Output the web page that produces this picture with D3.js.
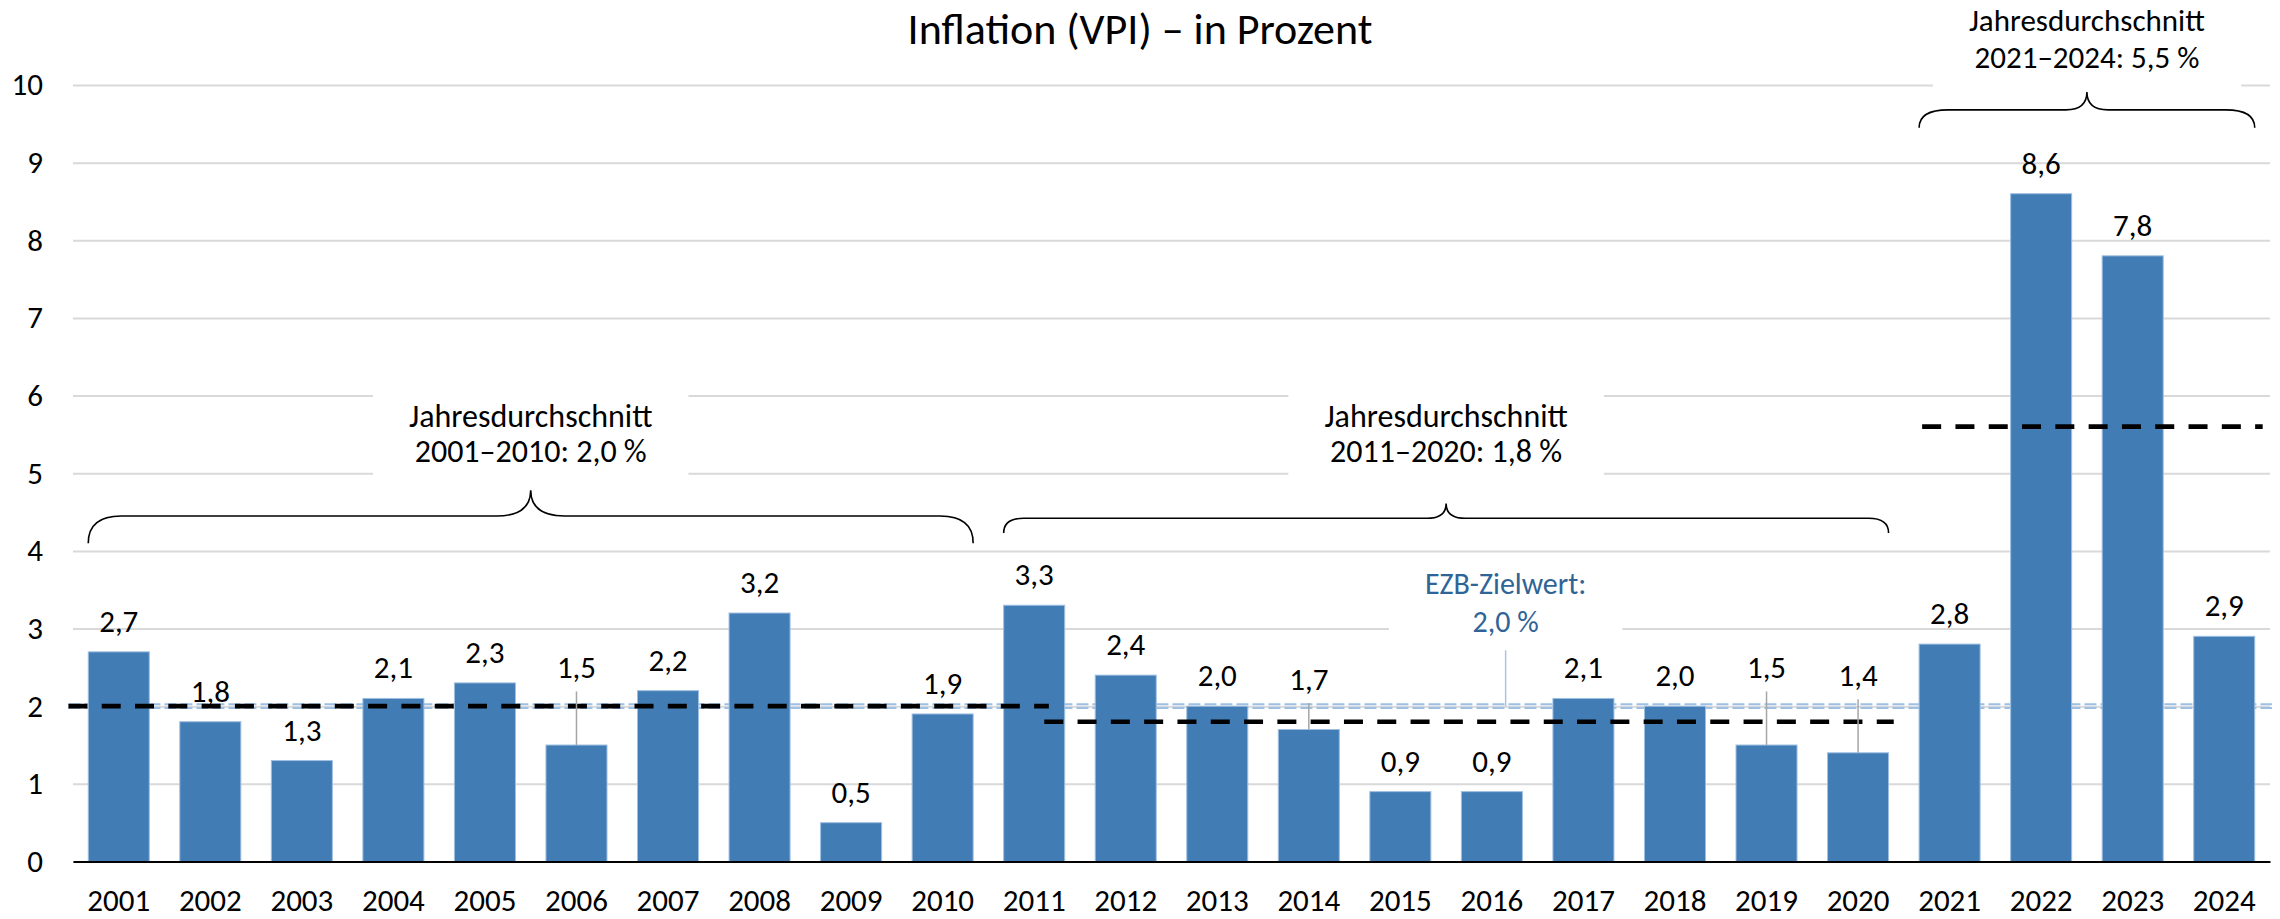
<!DOCTYPE html>
<html>
<head>
<meta charset="utf-8">
<script src="https://cdn.jsdelivr.net/npm/d3@7"></script>
<style>
  body { margin: 0; background: #fff; }
  text { font-family: Carlito, Calibri, Lato, sans-serif; }
</style>
</head>
<body>
<div id="barChart"></div>
<script>
// Inflation (VPI) bar chart

// data
const years = ["2001","2002","2003","2004","2005","2006","2007","2008","2009","2010",
  "2011","2012","2013","2014","2015","2016","2017","2018","2019","2020",
  "2021","2022","2023","2024"];
const inflation = [2.7, 1.8, 1.3, 2.1, 2.3, 1.5, 2.2, 3.2, 0.5, 1.9,
  3.3, 2.4, 2.0, 1.7, 0.9, 0.9, 2.1, 2.0, 1.5, 1.4,
  2.8, 8.6, 7.8, 2.9];
const yTicks = [0, 1, 2, 3, 4, 5, 6, 7, 8, 9, 10];

// period averages
const avgFrom = ["2001", "2011", "2021"];
const avgTo = ["2010", "2020", "2024"];
const avgValues = [2.0, 1.8, 5.5];
const avgLines = [2.0, 1.8, 5.6];

const ezbTarget = 2.0;

// labels that are lifted above the target line and get a leader
const labelAnchor = {"2006": 2.1, "2014": 1.95, "2019": 2.1, "2020": 2.0};

// layout of the brackets (y in chart units)
const braceLayout = [
  {end: 4.10, mid: 4.45, tip: 4.78, rEnd: 33, rTip: 34, text: 5.15, lead: 35, size: 32},
  {end: 4.23, mid: 4.42, tip: 4.61, rEnd: 20, rTip: 19, text: 5.15, lead: 35, size: 32},
  {end: 9.45, mid: 9.68, tip: 9.91, rEnd: 29, rTip: 21, text: 10.22, lead: 37, size: 31}
];
// extent of the dashed average lines, in band steps from the left edge
const avgSpan = [[-0.05, 10.66], [10.61, 19.89], [20.2, 23.92]];

const fmt = d3.formatLocale({decimal: ",", thousands: ".", grouping: [3], currency: ["", " €"]}).format(".1f");

// set the dimensions and margins of the graph
const margin = {top: 85, right: 10, bottom: 57.5, left: 73},
    width = 2280 - margin.left - margin.right,
    height = 919 - margin.top - margin.bottom;

const root = d3.select("#barChart")
  .append("svg")
    .attr("width", width + margin.left + margin.right)
    .attr("height", height + margin.top + margin.bottom);

const svg = root.append("g")
    .attr("transform", "translate(" + margin.left + "," + margin.top + ")");

const x = d3.scaleBand()
  .domain(years)
  .range([0, width])
  .paddingInner(1 / 3)
  .paddingOuter(1 / 6);

const y = d3.scaleLinear()
  .domain([0, 10])
  .range([height, 0]);

const step = x.step();
const fontSize = 31;
const fontFamily = "Carlito, Calibri, Lato, sans-serif";

// Y axis with gridlines
const yAxis = svg.append("g")
  .call(d3.axisLeft(y).tickValues(yTicks).tickSize(-width).tickPadding(30).tickFormat(d3.format("d")));
yAxis.select(".domain").remove();
yAxis.selectAll("line")
  .attr("stroke", "#d9d9d9")
  .attr("stroke-width", 2);
yAxis.selectAll("text")
  .attr("font-family", fontFamily)
  .attr("font-size", fontSize)
  .attr("fill", "#000");

// white boxes behind the texts (filled in later)
const boxLayer = svg.append("g");

// EZB target line (double dashed, behind bars)
[-1.9, 1.9].forEach(function(off) {
  svg.append("line")
    .attr("x1", -0.05 * step)
    .attr("x2", width + 2)
    .attr("y1", y(ezbTarget) + off)
    .attr("y2", y(ezbTarget) + off)
    .attr("stroke", "#9dc0e4")
    .attr("stroke-width", 2)
    .attr("stroke-dasharray", "12,4");
});

// bars
svg.selectAll("rect.bar")
  .data(years)
  .enter()
  .append("rect")
    .attr("class", "bar")
    .attr("x", function(d) { return x(d); })
    .attr("y", function(d, i) { return y(inflation[i]); })
    .attr("width", x.bandwidth())
    .attr("height", function(d, i) { return height - y(inflation[i]); })
    .attr("fill", "#427cb5")
    .attr("stroke", "#9fbfe2")
    .attr("stroke-width", 1);

// X axis
const xAxis = svg.append("g")
  .attr("transform", "translate(0," + height + ")")
  .call(d3.axisBottom(x).tickSize(0).tickPadding(27));
xAxis.select(".domain")
  .attr("stroke", "#000")
  .attr("stroke-width", 2);
xAxis.selectAll("text")
  .attr("font-family", fontFamily)
  .attr("font-size", fontSize)
  .attr("fill", "#000");

// average lines
svg.selectAll("line.avg")
  .data(avgLines)
  .enter()
  .append("line")
    .attr("class", "avg")
    .attr("x1", function(d, i) { return avgSpan[i][0] * step; })
    .attr("x2", function(d, i) { return avgSpan[i][1] * step; })
    .attr("y1", function(d) { return y(d); })
    .attr("y2", function(d) { return y(d); })
    .attr("stroke", "#000")
    .attr("stroke-width", 4.7)
    .attr("stroke-dasharray", "19,14.3");

// leader lines for lifted labels
svg.selectAll("line.leader")
  .data(years.filter(function(d) { return labelAnchor[d] !== undefined; }))
  .enter()
  .append("line")
    .attr("class", "leader")
    .attr("x1", function(d) { return x(d) + x.bandwidth() / 2; })
    .attr("x2", function(d) { return x(d) + x.bandwidth() / 2; })
    .attr("y1", function(d) { return y(labelAnchor[d]) - 7; })
    .attr("y2", function(d) { return y(inflation[years.indexOf(d)]); })
    .attr("stroke", "#a6a6a6")
    .attr("stroke-width", 1.5);

// value labels
svg.selectAll("text.value")
  .data(years)
  .enter()
  .append("text")
    .attr("class", "value")
    .attr("x", function(d) { return x(d) + x.bandwidth() / 2; })
    .attr("y", function(d, i) {
      const v = labelAnchor[d] !== undefined ? labelAnchor[d] : inflation[i];
      return y(v) - 20;
    })
    .attr("text-anchor", "middle")
    .attr("font-size", fontSize)
    .text(function(d, i) { return fmt(inflation[i]); });

// braces
function bracePath(x0, x1, yEnd, yMid, yTip, rEnd, rTip) {
  const xt = (x0 + x1) / 2;
  return "M" + x0 + "," + yEnd +
    " Q" + x0 + "," + yMid + " " + (x0 + rEnd) + "," + yMid +
    " L" + (xt - rTip) + "," + yMid +
    " Q" + xt + "," + yMid + " " + xt + "," + yTip +
    " Q" + xt + "," + yMid + " " + (xt + rTip) + "," + yMid +
    " L" + (x1 - rEnd) + "," + yMid +
    " Q" + x1 + "," + yMid + " " + x1 + "," + yEnd;
}

// two-line note as one text element, with a white box behind it
function note(cx, baseline2, lead, size, color, lines) {
  const t = svg.append("text")
    .attr("x", cx)
    .attr("y", baseline2 - lead)
    .attr("text-anchor", "middle")
    .attr("font-size", size)
    .attr("fill", color);
  t.append("tspan").attr("x", cx).text(lines[0]);
  t.append("tspan").attr("x", cx).attr("dy", lead).text(lines[1]);
  const b = t.node().getBBox();
  boxLayer.append("rect")
    .attr("x", b.x - 36)
    .attr("y", b.y - 4)
    .attr("width", b.width + 72)
    .attr("height", b.height + 18)
    .attr("fill", "#fff");
}

avgValues.forEach(function(v, i) {
  const L = braceLayout[i];
  const x0 = x(avgFrom[i]);
  const x1 = x(avgTo[i]) + x.bandwidth();

  svg.append("path")
    .attr("d", bracePath(x0, x1, y(L.end), y(L.mid), y(L.tip), L.rEnd, L.rTip))
    .attr("fill", "none")
    .attr("stroke", "#000")
    .attr("stroke-width", 1.6);

  note((x0 + x1) / 2, y(L.text), L.lead, L.size, "#000",
    ["Jahresdurchschnitt", avgFrom[i] + "–" + avgTo[i] + ": " + fmt(v) + " %"]);
});

// EZB label
const ezbX = 15.65 * step;
note(ezbX, y(2.96), 38, 30, "#2f6496", ["EZB-Zielwert:", fmt(ezbTarget) + " %"]);
svg.append("line")
  .attr("x1", ezbX).attr("x2", ezbX)
  .attr("y1", y(2.72)).attr("y2", y(ezbTarget))
  .attr("stroke", "#a9c4e2")
  .attr("stroke-width", 1.5);

// title
root.append("text")
  .attr("x", 1140)
  .attr("y", 44)
  .attr("text-anchor", "middle")
  .attr("font-size", 44)
  .text("Inflation (VPI) – in Prozent");
</script>
</body>
</html>
